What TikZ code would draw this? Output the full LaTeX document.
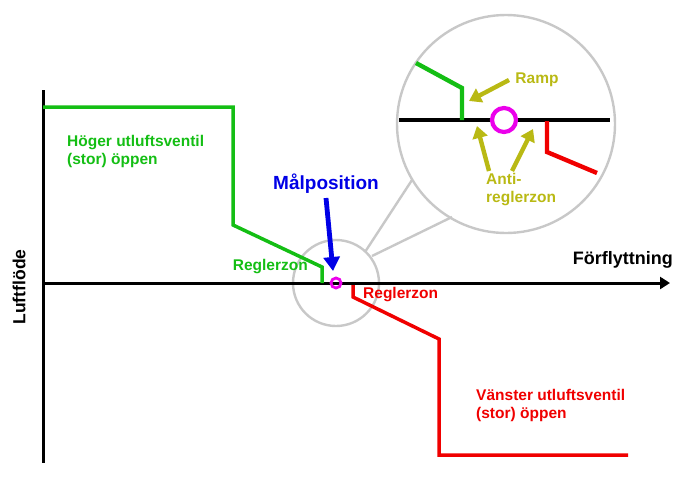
\documentclass[tikz,border=0pt]{standalone}
\usepackage{fontspec}
\setmainfont{Liberation Sans}
\usetikzlibrary{arrows.meta}
\definecolor{cgreen}{RGB}{20,190,20}
\definecolor{cred}{RGB}{240,0,0}
\definecolor{cblue}{RGB}{0,0,230}
\definecolor{cmag}{RGB}{235,0,235}
\definecolor{colive}{RGB}{185,185,20}
\definecolor{cgray}{RGB}{200,200,200}
\tikzset{
  lbl/.style={font=\bfseries\fontsize{15.5}{18}\selectfont, inner sep=0pt},
  axisline/.style={line width=3pt, black},
  greenline/.style={line width=3.5pt, cgreen},
  redline/.style={line width=3.5pt, cred},
  lensline/.style={line width=2.4pt, cgray},
  zoomline/.style={line width=4.4pt},
  olivearrow/.style={line width=4.4pt, colive, -{Triangle[width=15pt,length=12pt]}},
}
\begin{document}
\begin{tikzpicture}[x=1pt, y=-1pt]
\useasboundingbox (0,0) rectangle (674,490);

% lens outline: small circle, big circle and the two joining lines
\coordinate (smallc) at (336,283);
\coordinate (bigc) at (506,124);
\draw[lensline] (smallc) circle[radius=43];
\draw[lensline] (bigc) circle[radius=109];
\coordinate (l1a) at (365,252);
\coordinate (l1b) at (412,180);
\coordinate (l2a) at (372,256);
\coordinate (l2b) at (452,217);
\draw[lensline] (l1a) -- (l1b);
\draw[lensline] (l2a) -- (l2b);

% axes
\coordinate (origin) at (43,283);
\coordinate (ytop) at (43,90);
\coordinate (ybot) at (43,463);
\coordinate (xend) at (670,283);
\draw[axisline] (ytop) -- (ybot);
\draw[axisline, -{Triangle[width=12pt,length=10pt]}] (origin) -- (xend);

% green curve
\coordinate (g0) at (43,107);
\coordinate (g1) at (233,107);
\coordinate (g2) at (233,225);
\coordinate (g3) at (322,267);
\coordinate (g4) at (322,283);
\draw[greenline, line join=miter] (g0) -- (g1) -- (g2) -- (g3) -- (g4);

% red curve
\coordinate (r0) at (353,285);
\coordinate (r1) at (353,297);
\coordinate (r2) at (439,339);
\coordinate (r3) at (439,455);
\coordinate (r4) at (628,455);
\draw[redline, line join=miter] (r0) -- (r1) -- (r2) -- (r3) -- (r4);

% target marker
\draw[cmag, line width=2.8pt] (smallc) circle[radius=5];

% enlarged view inside the big circle
\coordinate (zl) at (399,120);
\coordinate (zr) at (610,120);
\draw[zoomline, black] (zl) -- (zr);
\coordinate (zg0) at (416,63);
\coordinate (zg1) at (462,88);
\coordinate (zg2) at (462,120);
\draw[zoomline, cgreen, line join=miter] (zg0) -- (zg1) -- (zg2);
\coordinate (zr0) at (547,121);
\coordinate (zr1) at (547,152);
\coordinate (zr2) at (597,173);
\draw[zoomline, cred, line join=miter] (zr0) -- (zr1) -- (zr2);
\coordinate (zt) at (504,120);
\draw[cmag, line width=4.2pt, fill=white] (zt) circle[radius=12];

% labels
\node[lbl, cgreen, align=left, anchor=west] (hoger) at (67,151) {Höger utluftsventil\\(stor) öppen};
\node[lbl, cgreen, anchor=east] (greg) at (308,267) {Reglerzon};
\node[lbl, cred, anchor=west] (rreg) at (363,295) {Reglerzon};
\node[lbl, cred, align=left, anchor=west] (vanster) at (476,405) {Vänster utluftsventil\\(stor) öppen};
\node[font=\bfseries\fontsize{19}{22}\selectfont, inner sep=0pt, cblue] (mal) at (326,184) {Målposition};
\node[font=\bfseries\fontsize{18}{21}\selectfont, inner sep=0pt, anchor=east] (forf) at (673,260) {Förflyttning};
\node[font=\bfseries\fontsize{17.5}{21}\selectfont, inner sep=0pt, rotate=90] (luft) at (19,287) {Luftflöde};
\node[lbl, colive] (ramp) at (537,80) {Ramp};
\node[lbl, colive, align=left, anchor=west] (anti) at (486,190) {Anti-\\reglerzon};

% pointers
\coordinate (malfrom) at (326,198);
\coordinate (malto) at (333,271);
\draw[cblue, line width=4.8pt, -{Triangle[width=16pt,length=14pt]}] (malfrom) -- (malto);
\coordinate (rampfrom) at (509,80);
\coordinate (rampto) at (469,101);
\draw[olivearrow] (rampfrom) -- (rampto);
\coordinate (a1from) at (489,171);
\coordinate (a1to) at (477,126);
\coordinate (a2from) at (512,171);
\coordinate (a2to) at (533,129);
\draw[olivearrow] (a1from) -- (a1to);
\draw[olivearrow] (a2from) -- (a2to);
\end{tikzpicture}
\end{document}
